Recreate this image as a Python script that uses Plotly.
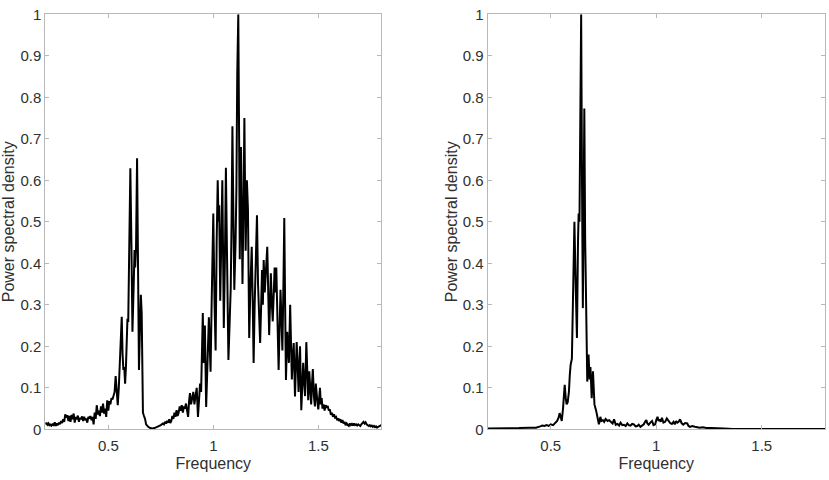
import plotly.graph_objects as go

# ---- Left panel data (frequency, normalised PSD) ----
left_freq = [
    0.200, 0.205, 0.210, 0.215, 0.220, 0.225, 0.230, 0.235, 0.240, 0.245,
    0.250, 0.255, 0.260, 0.265, 0.270, 0.275, 0.280, 0.285, 0.290, 0.295,
    0.300, 0.305, 0.310, 0.315, 0.320, 0.325, 0.330, 0.335, 0.340, 0.345,
    0.350, 0.355, 0.360, 0.365, 0.370, 0.375, 0.380, 0.385, 0.390, 0.395,
    0.400, 0.405, 0.410, 0.415, 0.420, 0.425, 0.430, 0.435, 0.440, 0.445,
    0.450, 0.455, 0.460, 0.465, 0.470, 0.475, 0.480, 0.485, 0.490, 0.495,
    0.500, 0.505, 0.510, 0.515, 0.520, 0.525, 0.530, 0.535, 0.540, 0.545,
    0.550, 0.555, 0.560, 0.564, 0.568, 0.572, 0.576, 0.580, 0.584, 0.588,
    0.591, 0.595, 0.600, 0.605, 0.610, 0.615, 0.620, 0.625, 0.628, 0.632,
    0.637, 0.641, 0.646, 0.651, 0.655, 0.659, 0.662, 0.665, 0.670, 0.675,
    0.680, 0.690, 0.700, 0.710, 0.720, 0.730, 0.740, 0.750, 0.760, 0.765,
    0.770, 0.775, 0.780, 0.785, 0.790, 0.795, 0.800, 0.805, 0.810, 0.815,
    0.820, 0.825, 0.830, 0.835, 0.840, 0.845, 0.850, 0.855, 0.860, 0.865,
    0.870, 0.875, 0.880, 0.885, 0.889, 0.894, 0.899, 0.905, 0.910, 0.915,
    0.921, 0.927, 0.932, 0.937, 0.942, 0.946, 0.950, 0.954, 0.957, 0.960,
    0.966, 0.971, 0.975, 0.979, 0.983, 0.987, 0.992, 0.997, 1.000, 1.006,
    1.011, 1.016, 1.021, 1.025, 1.028, 1.033, 1.038, 1.043, 1.047, 1.050,
    1.055, 1.060, 1.064, 1.068, 1.072, 1.078, 1.083, 1.087, 1.091, 1.096,
    1.100, 1.106, 1.110, 1.114, 1.119, 1.123, 1.126, 1.132, 1.136, 1.139,
    1.144, 1.148, 1.154, 1.160, 1.165, 1.171, 1.177, 1.183, 1.188, 1.192,
    1.197, 1.203, 1.208, 1.213, 1.218, 1.223, 1.228, 1.232, 1.236, 1.240,
    1.245, 1.250, 1.257, 1.262, 1.266, 1.270, 1.274, 1.279, 1.283, 1.288,
    1.292, 1.296, 1.300, 1.304, 1.308, 1.311, 1.316, 1.320, 1.325, 1.329,
    1.334, 1.338, 1.342, 1.346, 1.352, 1.356, 1.360, 1.366, 1.371, 1.374,
    1.379, 1.383, 1.389, 1.393, 1.397, 1.402, 1.406, 1.410, 1.413, 1.419,
    1.424, 1.428, 1.433, 1.437, 1.443, 1.448, 1.452, 1.457, 1.462, 1.466,
    1.470, 1.474, 1.479, 1.484, 1.488, 1.492, 1.496, 1.500, 1.504, 1.508,
    1.512, 1.516, 1.520, 1.525, 1.530, 1.535, 1.540, 1.545, 1.550, 1.555,
    1.560, 1.565, 1.570, 1.575, 1.580, 1.585, 1.590, 1.595, 1.600, 1.605,
    1.610, 1.615, 1.620, 1.625, 1.630, 1.635, 1.640, 1.645, 1.650, 1.655,
    1.660, 1.665, 1.670, 1.675, 1.680, 1.685, 1.690, 1.695, 1.700, 1.705,
    1.710, 1.715, 1.720, 1.725, 1.730, 1.735, 1.740, 1.745, 1.750, 1.755,
    1.760, 1.765, 1.770, 1.775, 1.780, 1.785, 1.790, 1.795, 1.800,
]
left_psd = [
    0.012, 0.016, 0.011, 0.014, 0.008, 0.013, 0.009, 0.012, 0.010, 0.017,
    0.008, 0.014, 0.010, 0.016, 0.012, 0.020, 0.015, 0.024, 0.018, 0.036,
    0.028, 0.034, 0.020, 0.032, 0.018, 0.035, 0.024, 0.038, 0.016, 0.030,
    0.024, 0.033, 0.018, 0.028, 0.024, 0.031, 0.020, 0.030, 0.022, 0.026,
    0.016, 0.030, 0.026, 0.032, 0.022, 0.030, 0.012, 0.040, 0.025, 0.058,
    0.036, 0.045, 0.032, 0.055, 0.040, 0.062, 0.038, 0.050, 0.030, 0.070,
    0.045, 0.068, 0.060, 0.075, 0.072, 0.082, 0.090, 0.128, 0.085, 0.058,
    0.100, 0.150, 0.200, 0.271, 0.180, 0.143, 0.150, 0.110, 0.150, 0.240,
    0.263, 0.262, 0.400, 0.629, 0.450, 0.235, 0.330, 0.432, 0.390, 0.436,
    0.653, 0.350, 0.143, 0.250, 0.324, 0.280, 0.120, 0.040, 0.032, 0.025,
    0.012, 0.006, 0.003, 0.002, 0.003, 0.005, 0.008, 0.010, 0.014, 0.012,
    0.018, 0.014, 0.020, 0.016, 0.024, 0.015, 0.020, 0.032, 0.025, 0.040,
    0.030, 0.046, 0.032, 0.040, 0.055, 0.045, 0.058, 0.040, 0.055, 0.050,
    0.062, 0.045, 0.030, 0.070, 0.087, 0.060, 0.075, 0.090, 0.060, 0.080,
    0.100, 0.030, 0.080, 0.110, 0.090, 0.200, 0.280, 0.160, 0.200, 0.250,
    0.054, 0.120, 0.200, 0.270, 0.200, 0.139, 0.300, 0.520, 0.520, 0.300,
    0.190, 0.450, 0.600, 0.500, 0.540, 0.310, 0.450, 0.600, 0.400, 0.244,
    0.400, 0.630, 0.470, 0.350, 0.167, 0.260, 0.340, 0.500, 0.730, 0.500,
    0.336, 0.450, 0.580, 0.854, 1.000, 0.700, 0.410, 0.680, 0.500, 0.350,
    0.550, 0.750, 0.430, 0.600, 0.530, 0.220, 0.350, 0.440, 0.300, 0.160,
    0.300, 0.450, 0.516, 0.350, 0.280, 0.208, 0.300, 0.384, 0.300, 0.408,
    0.330, 0.380, 0.440, 0.320, 0.227, 0.300, 0.376, 0.300, 0.260, 0.330,
    0.390, 0.330, 0.390, 0.300, 0.200, 0.143, 0.250, 0.336, 0.260, 0.190,
    0.350, 0.509, 0.300, 0.119, 0.235, 0.180, 0.160, 0.300, 0.200, 0.120,
    0.180, 0.208, 0.079, 0.150, 0.210, 0.150, 0.090, 0.160, 0.200, 0.046,
    0.120, 0.160, 0.110, 0.080, 0.210, 0.120, 0.070, 0.140, 0.100, 0.060,
    0.110, 0.145, 0.080, 0.055, 0.110, 0.080, 0.065, 0.048, 0.080, 0.100,
    0.060, 0.075, 0.050, 0.060, 0.045, 0.058, 0.052, 0.056, 0.045, 0.048,
    0.035, 0.040, 0.030, 0.036, 0.028, 0.030, 0.022, 0.026, 0.020, 0.024,
    0.016, 0.022, 0.014, 0.018, 0.010, 0.014, 0.010, 0.008, 0.014, 0.010,
    0.013, 0.009, 0.014, 0.010, 0.012, 0.009, 0.012, 0.010, 0.008, 0.012,
    0.014, 0.018, 0.014, 0.017, 0.012, 0.010, 0.008, 0.010, 0.007, 0.009,
    0.006, 0.008, 0.005, 0.007, 0.004, 0.006, 0.008, 0.009, 0.010,
]

# ---- Right panel data ----
right_freq = [
    0.200, 0.250, 0.300, 0.350, 0.400, 0.430, 0.450, 0.460, 0.470, 0.480,
    0.490, 0.500, 0.511, 0.520, 0.530, 0.537, 0.542, 0.547, 0.552, 0.558,
    0.566, 0.571, 0.575, 0.580, 0.586, 0.590, 0.594, 0.600, 0.606, 0.612,
    0.618, 0.624, 0.629, 0.632, 0.636, 0.644, 0.648, 0.652, 0.656, 0.659,
    0.663, 0.668, 0.673, 0.679, 0.684, 0.688, 0.694, 0.700, 0.707, 0.715,
    0.722, 0.728, 0.735, 0.740, 0.747, 0.753, 0.760, 0.769, 0.777, 0.785,
    0.793, 0.800, 0.808, 0.816, 0.824, 0.831, 0.839, 0.847, 0.855, 0.863,
    0.870, 0.878, 0.886, 0.894, 0.902, 0.910, 0.917, 0.925, 0.933, 0.941,
    0.947, 0.953, 0.958, 0.964, 0.972, 0.980, 0.987, 0.995, 1.000, 1.006,
    1.011, 1.016, 1.021, 1.027, 1.034, 1.042, 1.050, 1.058, 1.066, 1.074,
    1.082, 1.088, 1.094, 1.100, 1.106, 1.113, 1.120, 1.128, 1.137, 1.147,
    1.153, 1.160, 1.170, 1.183, 1.195, 1.206, 1.220, 1.238, 1.260, 1.284,
    1.320, 1.363, 1.450, 1.550, 1.650, 1.800,
]
right_psd = [
    0.002, 0.002, 0.003, 0.003, 0.004, 0.004, 0.007, 0.009, 0.008, 0.010,
    0.008, 0.012, 0.010, 0.016, 0.020, 0.028, 0.039, 0.030, 0.020, 0.050,
    0.107, 0.075, 0.060, 0.065, 0.090, 0.130, 0.155, 0.170, 0.300, 0.500,
    0.350, 0.220, 0.450, 0.520, 0.500, 1.000, 0.600, 0.292, 0.550, 0.773,
    0.460, 0.200, 0.115, 0.180, 0.120, 0.150, 0.075, 0.140, 0.060, 0.045,
    0.025, 0.012, 0.030, 0.020, 0.022, 0.018, 0.025, 0.020, 0.022, 0.017,
    0.014, 0.024, 0.011, 0.013, 0.009, 0.016, 0.010, 0.011, 0.008, 0.014,
    0.010, 0.009, 0.013, 0.012, 0.007, 0.008, 0.011, 0.006, 0.010, 0.012,
    0.018, 0.022, 0.014, 0.011, 0.016, 0.020, 0.010, 0.012, 0.022, 0.030,
    0.020, 0.024, 0.018, 0.028, 0.016, 0.018, 0.026, 0.020, 0.015, 0.013,
    0.018, 0.012, 0.020, 0.016, 0.018, 0.024, 0.015, 0.011, 0.015, 0.014,
    0.008, 0.006, 0.008, 0.006, 0.005, 0.004, 0.005, 0.003, 0.003, 0.002,
    0.002, 0.001, 0.001, 0.001, 0.001, 0.001,
]

x_tickvals = [0.5, 1, 1.5]
x_ticktext = ["0.5", "1", "1.5"]
y_tickvals = [0, 0.1, 0.2, 0.3, 0.4, 0.5, 0.6, 0.7, 0.8, 0.9, 1]
y_ticktext = ["0", "0.1", "0.2", "0.3", "0.4", "0.5", "0.6", "0.7", "0.8", "0.9", "1"]

W, H = 829, 480
FONT = "Liberation Sans, Arial, sans-serif"
AX_COLOR = "#b8b8b8"
TXT_COLOR = "#303030"

fig = go.Figure()
fig.add_trace(go.Scatter(x=left_freq, y=left_psd, mode="lines",
                         line=dict(color="black", width=2),
                         xaxis="x", yaxis="y", showlegend=False))
fig.add_trace(go.Scatter(x=right_freq, y=right_psd, mode="lines",
                         line=dict(color="black", width=2),
                         xaxis="x2", yaxis="y2", showlegend=False))

ydom = [1 - 429.3 / H, 1 - 14.3 / H]
tickfont = dict(size=15, color=TXT_COLOR, family=FONT)
titlefont = dict(size=16, color=TXT_COLOR, family=FONT)
common_x = dict(range=[0.2, 1.8], tickvals=x_tickvals, ticktext=x_ticktext,
                showgrid=False, zeroline=False, showline=True, mirror="ticks",
                linecolor=AX_COLOR, linewidth=1, ticks="inside", ticklen=4,
                tickcolor=AX_COLOR, tickfont=tickfont, ticklabelstandoff=3,
                automargin=False)
common_y = dict(range=[0, 1], tickvals=y_tickvals, ticktext=y_ticktext,
                showgrid=False, zeroline=False, showline=True, mirror="ticks",
                linecolor=AX_COLOR, linewidth=1, ticks="inside", ticklen=4,
                tickcolor=AX_COLOR, tickfont=tickfont,
                automargin=False, domain=ydom)

fig.update_layout(
    width=W, height=H,
    margin=dict(l=0, r=0, t=0, b=0),
    paper_bgcolor="white", plot_bgcolor="white",
    font=dict(family=FONT, color=TXT_COLOR),
    xaxis=dict(common_x, domain=[45.3 / W, 381.3 / W], anchor="y",
               title=dict(text="Frequency", font=titlefont, standoff=4)),
    yaxis=dict(common_y, anchor="x",
               title=dict(text="Power spectral density", font=titlefont, standoff=1)),
    xaxis2=dict(common_x, domain=[487.5 / W, 825 / W], anchor="y2",
                title=dict(text="Frequency", font=titlefont, standoff=4)),
    yaxis2=dict(common_y, anchor="x2",
                title=dict(text="Power spectral density", font=titlefont, standoff=1)),
)

fig.write_html("out.html")
